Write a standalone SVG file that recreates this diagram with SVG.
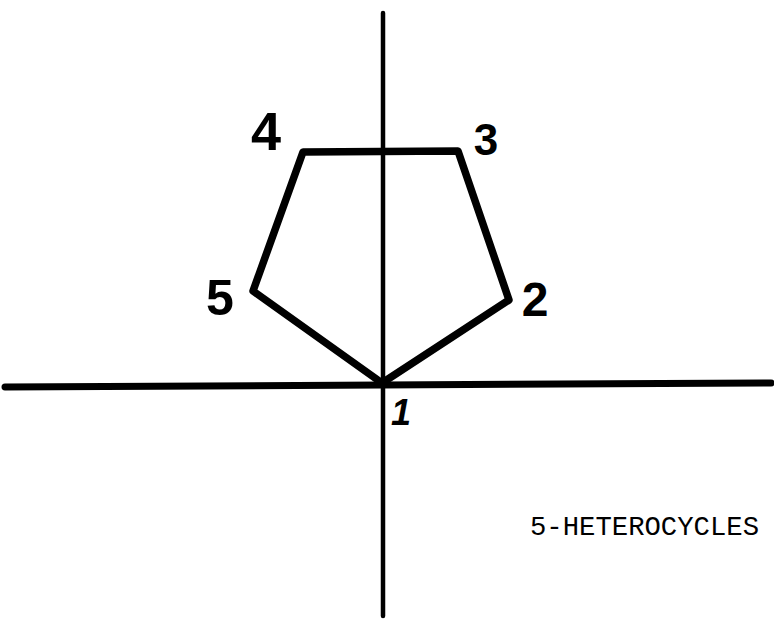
<svg xmlns="http://www.w3.org/2000/svg" width="774" height="621" viewBox="0 0 774 621">
<style>
.axis{stroke:#000;fill:none;stroke-linecap:round}
.ring{stroke:#000;fill:none;stroke-width:7.5;stroke-linejoin:round;stroke-linecap:round}
.lbl{font-family:"Liberation Sans",Arial,sans-serif;font-weight:bold;fill:#000;text-anchor:middle}
.cap{font-family:"Liberation Mono","Courier New",monospace;font-size:27px;fill:#000}
</style>
<rect width="774" height="621" fill="#fff"/>
<g id="connectors">
<line class="axis" x1="383" y1="13" x2="383" y2="616" stroke-width="4.5"/>
<line class="axis" x1="5" y1="387" x2="771" y2="383" stroke-width="7"/>
<polygon class="ring" points="382,383 509,300 458,151 303,152 253,291"/>
</g>
<g id="n1"><text class="lbl" x="401" y="425" font-size="36" font-style="italic">1</text></g>
<g id="n2"><text class="lbl" x="535" y="316" font-size="48">2</text></g>
<g id="n3"><text class="lbl" x="486" y="155" font-size="44">3</text></g>
<g id="n4"><text class="lbl" x="266" y="150" font-size="54">4</text></g>
<g id="n5"><text class="lbl" x="220" y="315" font-size="50">5</text></g>
<g id="caption"><text class="cap" x="530" y="535" textLength="229" lengthAdjust="spacingAndGlyphs">5-HETEROCYCLES</text></g>
</svg>
